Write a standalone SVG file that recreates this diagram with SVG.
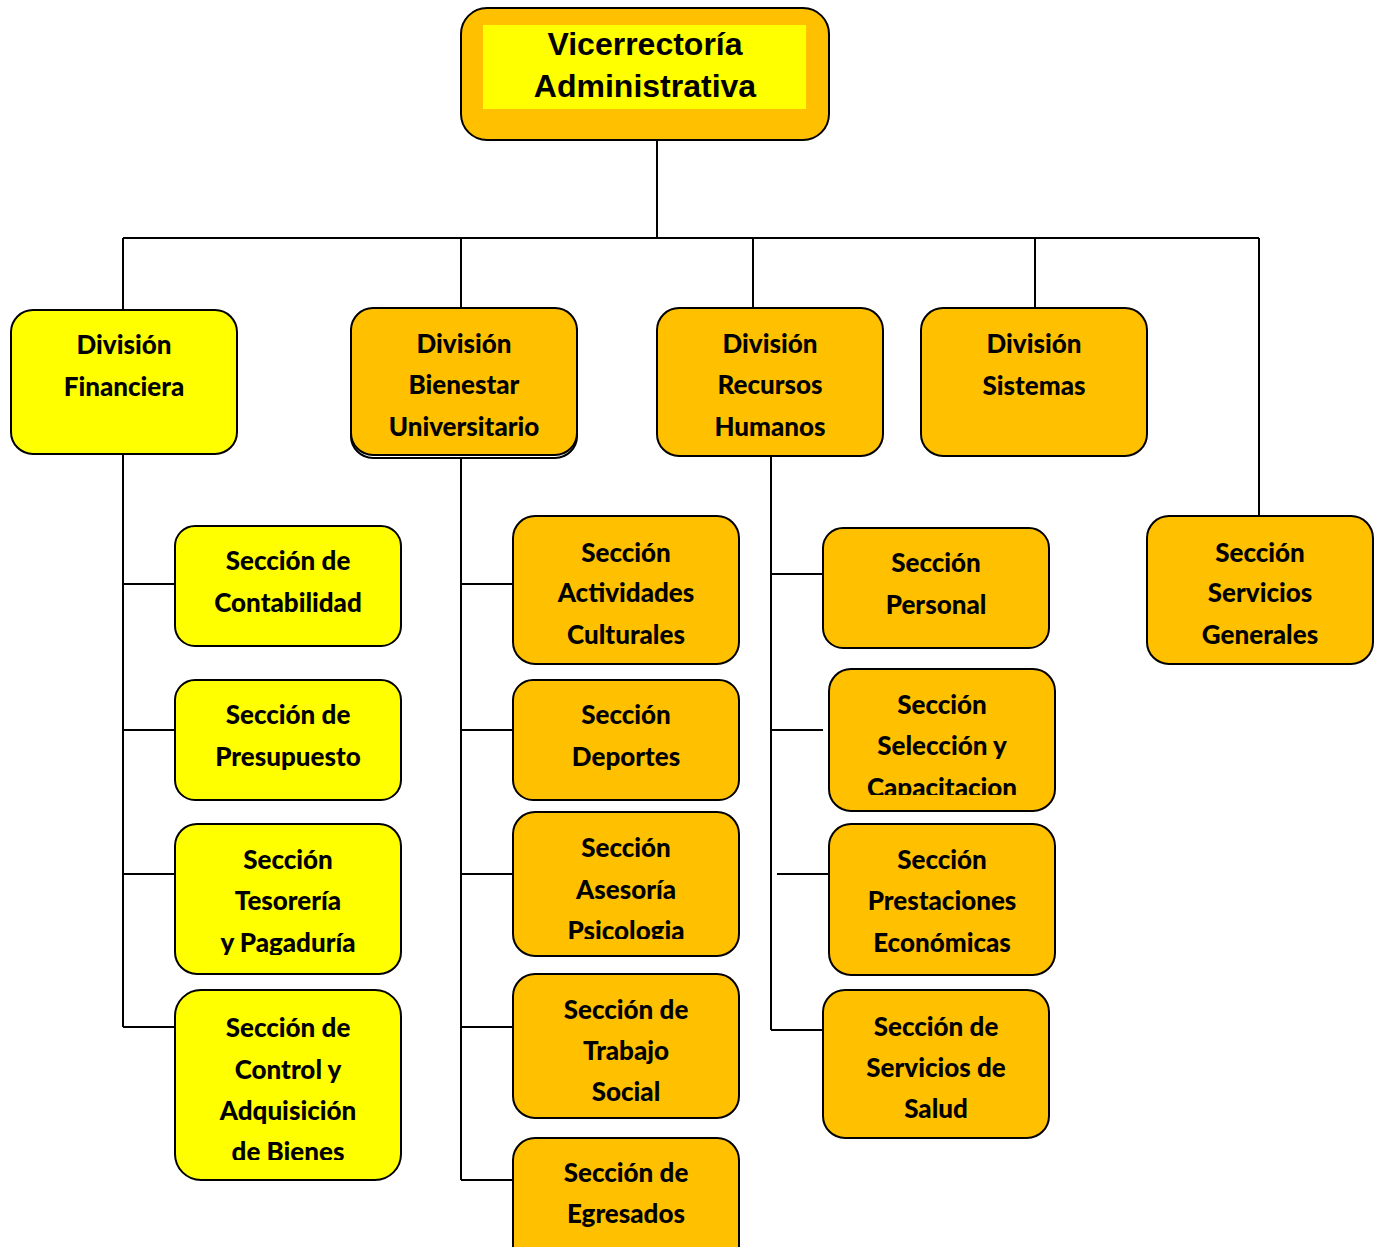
<svg xmlns="http://www.w3.org/2000/svg" width="1377" height="1247" viewBox="0 0 1377 1247">
<style>
.b{stroke:#000;stroke-width:2;}
.y{fill:#FFFF00;}
.o{fill:#FFC000;}
.t{font-family:Lato,"Open Sans","Liberation Sans",sans-serif;font-weight:900;font-size:26px;fill:#000;text-anchor:middle;}
.r{font-family:"Liberation Sans",Arial,sans-serif;font-weight:bold;font-size:32px;fill:#000;text-anchor:middle;}
.c{stroke:#000;stroke-width:2;fill:none;}
</style>
<defs>
<clipPath id="cTes"><rect x="175" y="824" width="226" height="131"/></clipPath>
<clipPath id="cCon"><rect x="175" y="990" width="226" height="170"/></clipPath>
<clipPath id="cAse"><rect x="513" y="812" width="226" height="127"/></clipPath>
<clipPath id="cTra"><rect x="513" y="974" width="226" height="129"/></clipPath>
<clipPath id="cSel"><rect x="829" y="669" width="226" height="126"/></clipPath>
</defs>
<g id="connectors">
<path class="c" d="M657 140V238M123 238H1259M123 238V310M461 238V308M753 238V308M1035 238V308M1259 238V516"/>
<path class="c" d="M123 454V1027M123 584H175M123 730H175M123 874H175M123 1027H175"/>
<path class="c" d="M461 456V1180M461 584H513M461 730H513M461 874H513M461 1027H513M461 1180H513"/>
<path class="c" d="M771 456V1030M771 574H823M771 730H823M777 874H829M771 1030H823"/>
</g>
<g id="root">
<rect class="b o" x="461" y="8" width="368" height="132" rx="26"/>
<rect class="y" x="483" y="25" width="323" height="84"/>
<text class="r" x="645" y="55">Vicerrectoría</text>
<text class="r" x="645" y="97">Administrativa</text>
</g>
<g id="div-financiera">
<rect class="b y" x="11" y="310" width="226" height="144" rx="22"/>
<text class="t" x="124" y="354">División</text>
<text class="t" x="124" y="396">Financiera</text>
</g>
<g id="div-bienestar">
<rect x="351" y="311" width="226" height="147" rx="22" fill="#fff" stroke="#000" stroke-width="2"/>
<rect class="b o" x="351" y="308" width="226" height="147" rx="22"/>
<text class="t" x="464" y="353">División</text>
<text class="t" x="464" y="394">Bienestar</text>
<text class="t" x="464" y="436">Universitario</text>
</g>
<g id="div-rrhh">
<rect class="b o" x="657" y="308" width="226" height="148" rx="22"/>
<text class="t" x="770" y="353">División</text>
<text class="t" x="770" y="394">Recursos</text>
<text class="t" x="770" y="436">Humanos</text>
</g>
<g id="div-sistemas">
<rect class="b o" x="921" y="308" width="226" height="148" rx="22"/>
<text class="t" x="1034" y="353">División</text>
<text class="t" x="1034" y="395">Sistemas</text>
</g>
<g id="sec-servicios-generales">
<rect class="b o" x="1147" y="516" width="226" height="148" rx="22"/>
<text class="t" x="1260" y="562">Sección</text>
<text class="t" x="1260" y="602">Servicios</text>
<text class="t" x="1260" y="644">Generales</text>
</g>
<g id="sec-contabilidad">
<rect class="b y" x="175" y="526" width="226" height="120" rx="20"/>
<text class="t" x="288" y="570">Sección de</text>
<text class="t" x="288" y="612">Contabilidad</text>
</g>
<g id="sec-presupuesto">
<rect class="b y" x="175" y="680" width="226" height="120" rx="20"/>
<text class="t" x="288" y="724">Sección de</text>
<text class="t" x="288" y="766">Presupuesto</text>
</g>
<g id="sec-tesoreria">
<rect class="b y" x="175" y="824" width="226" height="150" rx="22"/>
<g clip-path="url(#cTes)">
<text class="t" x="288" y="869">Sección</text>
<text class="t" x="288" y="910">Tesorería</text>
<text class="t" x="288" y="952">y Pagaduría</text>
</g>
</g>
<g id="sec-control">
<rect class="b y" x="175" y="990" width="226" height="190" rx="26"/>
<g clip-path="url(#cCon)">
<text class="t" x="288" y="1037">Sección de</text>
<text class="t" x="288" y="1079">Control y</text>
<text class="t" x="288" y="1120">Adquisición</text>
<text class="t" x="288" y="1161">de Bienes</text>
</g>
</g>
<g id="sec-actividades">
<rect class="b o" x="513" y="516" width="226" height="148" rx="22"/>
<text class="t" x="626" y="562">Sección</text>
<text class="t" x="626" y="602">Actividades</text>
<text class="t" x="626" y="644">Culturales</text>
</g>
<g id="sec-deportes">
<rect class="b o" x="513" y="680" width="226" height="120" rx="20"/>
<text class="t" x="626" y="724">Sección</text>
<text class="t" x="626" y="766">Deportes</text>
</g>
<g id="sec-asesoria">
<rect class="b o" x="513" y="812" width="226" height="144" rx="22"/>
<g clip-path="url(#cAse)">
<text class="t" x="626" y="857">Sección</text>
<text class="t" x="626" y="899">Asesoría</text>
<text class="t" x="626" y="940">Psicologia</text>
</g>
</g>
<g id="sec-trabajo-social">
<rect class="b o" x="513" y="974" width="226" height="144" rx="22"/>
<g clip-path="url(#cTra)">
<text class="t" x="626" y="1019">Sección de</text>
<text class="t" x="626" y="1060">Trabajo</text>
<text class="t" x="626" y="1101">Social</text>
</g>
</g>
<g id="sec-egresados">
<rect class="b o" x="513" y="1138" width="226" height="130" rx="22"/>
<text class="t" x="626" y="1182">Sección de</text>
<text class="t" x="626" y="1223">Egresados</text>
</g>
<g id="sec-personal">
<rect class="b o" x="823" y="528" width="226" height="120" rx="20"/>
<text class="t" x="936" y="572">Sección</text>
<text class="t" x="936" y="614">Personal</text>
</g>
<g id="sec-seleccion">
<rect class="b o" x="829" y="669" width="226" height="142" rx="22"/>
<g clip-path="url(#cSel)">
<text class="t" x="942" y="714">Sección</text>
<text class="t" x="942" y="755">Selección y</text>
<text class="t" x="942" y="797">Capacitacion</text>
</g>
</g>
<g id="sec-prestaciones">
<rect class="b o" x="829" y="824" width="226" height="151" rx="22"/>
<text class="t" x="942" y="869">Sección</text>
<text class="t" x="942" y="910">Prestaciones</text>
<text class="t" x="942" y="952">Económicas</text>
</g>
<g id="sec-salud">
<rect class="b o" x="823" y="990" width="226" height="148" rx="22"/>
<text class="t" x="936" y="1036">Sección de</text>
<text class="t" x="936" y="1077">Servicios de</text>
<text class="t" x="936" y="1118">Salud</text>
</g>
</svg>
